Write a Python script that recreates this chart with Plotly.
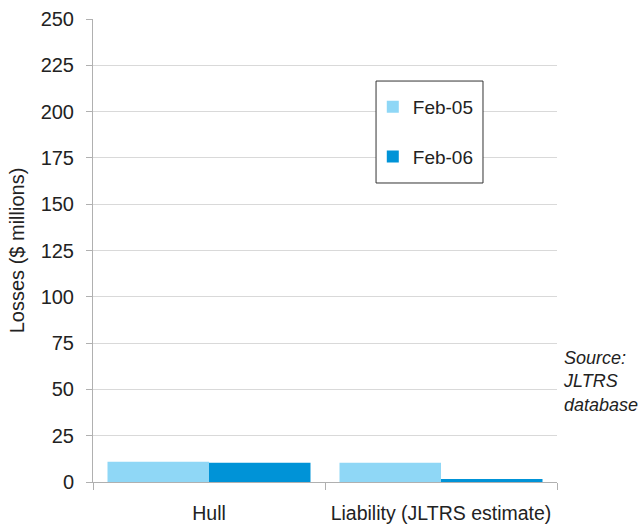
import plotly.graph_objects as go

categories = ["Hull", "Liability (JLTRS estimate)"]
feb05 = [11, 10.4]
feb06 = [10.4, 1.6]
series_names = ["Feb-05", "Feb-06"]
y_ticks = [0, 25, 50, 75, 100, 125, 150, 175, 200, 225, 250]

font_family = "Liberation Sans, Arial, sans-serif"
text_color = "#222222"

fig = go.Figure()
fig.add_trace(go.Bar(x=categories, y=feb05, name=series_names[0],
                     marker=dict(color="#8FD7F6", line=dict(width=0)),
                     legendgroup="a"))
fig.add_trace(go.Bar(x=categories, y=feb06, name=series_names[1],
                     marker=dict(color="#0093D7", line=dict(width=0)),
                     legendgroup="b"))

fig.update_layout(
    width=640, height=528,
    margin=dict(l=93, r=83, t=19, b=46),
    paper_bgcolor="white", plot_bgcolor="white",
    barmode="group", bargap=0.125, bargroupgap=0,
    font=dict(family=font_family, size=19, color=text_color),
    showlegend=True,
    legend=dict(
        x=0.603, y=0.851, xanchor="left", yanchor="top",
        bgcolor="rgba(0,0,0,0)", borderwidth=0,
        font=dict(size=19), traceorder="grouped", tracegroupgap=22,
        itemwidth=30,
    ),
    # framed box behind the legend entries
    shapes=[dict(
        type="rect", xref="paper", yref="paper",
        x0=0.610, x1=0.8405, y0=0.6458, y1=0.866,
        line=dict(color="#333333", width=1), fillcolor="white", layer="above",
    )],
    xaxis=dict(
        showline=True, linecolor="#b0b0b0", linewidth=1, automargin=False,
        ticks="outside", tickson="boundaries", ticklen=7, tickcolor="#b0b0b0",
        ticklabelstandoff=14, showgrid=False, zeroline=False,
        tickfont=dict(size=19.5),
    ),
    yaxis=dict(
        range=[0, 250], tickvals=y_ticks, ticks="outside", ticklen=6,
        tickcolor="#b0b0b0", showline=True, linecolor="#b0b0b0", linewidth=1,
        gridcolor="#d9d9d9", gridwidth=1, zeroline=False, automargin=False,
        ticklabelstandoff=8, tickfont=dict(size=20),
        title=dict(text="Losses ($ millions)", font=dict(size=20), standoff=10),
    ),
    annotations=[dict(
        text="<i>Source:<br>JLTRS<br>database</i>", xref="paper", yref="paper",
        x=1.0, xshift=4, y=0.218, xanchor="left", yanchor="middle", align="left",
        showarrow=False, font=dict(size=18, color=text_color),
    )],
)

fig.write_html("out.html")
